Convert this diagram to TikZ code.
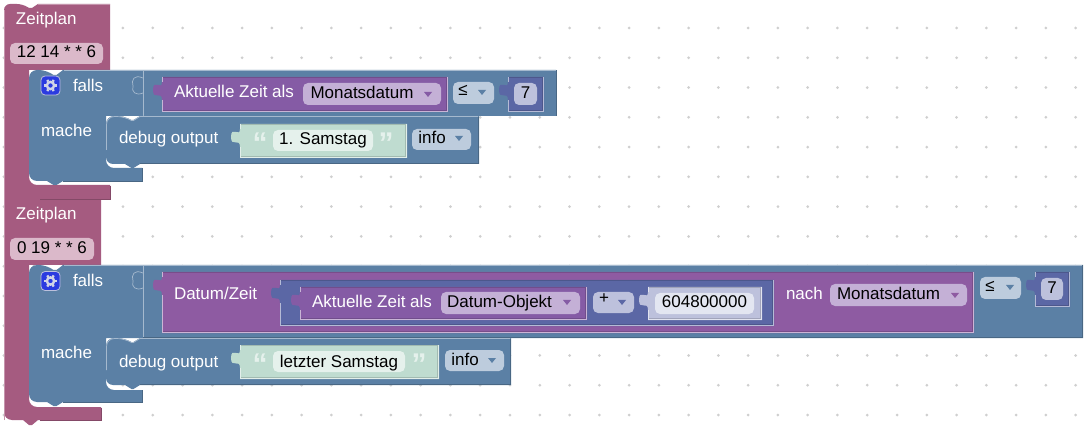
\documentclass[tikz,border=0pt]{standalone}
\usepackage{fontspec}
\setmainfont{Liberation Sans}
\definecolor{cron}{HTML}{A55B80}
\definecolor{ctrl}{HTML}{5B80A5}
\definecolor{cronfield}{HTML}{DBB9CA}
\definecolor{ddblue}{HTML}{BDCCDD}
\definecolor{ddpurple}{HTML}{C4B0D6}
\definecolor{ddindigo}{HTML}{BDC1DC}
\definecolor{purpA}{HTML}{855BA5}
\definecolor{purpB}{HTML}{8E5BA2}
\definecolor{indigo}{HTML}{5B67A5}
\definecolor{strg}{HTML}{BFDCD0}
\definecolor{strfield}{HTML}{E5F1EC}
\definecolor{numfield}{HTML}{E3E6F1}
\definecolor{gridc}{HTML}{CFCFCF}
\definecolor{gearbg}{HTML}{2B3BE0}
\tikzset{
  lab/.style={anchor=base west,inner sep=0pt,outer sep=0pt,text=white,font=\fontsize{17}{20}\selectfont},
  val/.style={anchor=base,inner sep=0pt,outer sep=0pt,text=black,font=\fontsize{17}{20}\selectfont},
  quot/.style={anchor=center,inner sep=0pt,text=strfield,font=\fontsize{30}{30}\selectfont\bfseries},
}
% value block: x1,y1,x2,y2,fill
\newcommand{\valb}[5]{%
  \fill[#5] (#1,#2) -- (#1,#2+5) .. controls (#1,#2+14) and (#1-9,#2+1) .. (#1-9,#2+13)
     .. controls (#1-9,#2+24) and (#1,#2+13) .. (#1,#2+23) -- (#1,#4) -- (#3,#4) -- (#3,#2) -- cycle;
  \draw[#5!85!black,line width=.8pt] (#1+.5,#4-1.5) -- (#3-1.5,#4-1.5) -- (#3-1.5,#2+.5);
  \draw[#5!85!black,line width=.8pt] (#1,#2+.4) -- (#3,#2+.4);
  \draw[#5!45!white,line width=.8pt] (#1,#2+23) -- (#1,#4-.4) -- (#3-.4,#4-.4) -- (#3-.4,#2);
  \draw[#5!45!white,line width=.6pt] (#1,#2) -- (#1,#2+5);
}
% rounded field: x1,y1,x2,y2,fill
\newcommand{\fld}[5]{\fill[#5,rounded corners=5pt] (#1,#2) rectangle (#3,#4);}
% dropdown triangle: x,y,colour
\newcommand{\ddtri}[3]{\fill[#3] (#1,#2) -- (#1+8,#2) -- (#1+4,#2+5) -- cycle;}
% gear at centre x,y
\newcommand{\gearicon}[2]{%
  \fill[gearbg,draw=ddindigo,line width=.8pt,rounded corners=4pt] (#1-9.5,#2-9.5) rectangle (#1+9.5,#2+9.5);
  \draw[ddindigo!70!white,line width=2.4pt] (#1,#2) circle (3.6pt);
  \foreach \a in {0,60,120,180,240,300}{
    \draw[ddindigo!70!white,line width=2.4pt] (#1,#2) ++(\a:4.4pt) -- ++(\a:2pt);}
}
\begin{document}
\begin{tikzpicture}[x=1pt,y=-1pt]
\useasboundingbox (0,0) rectangle (1092,430);
\fill[white] (0,0) rectangle (1092,430);
% grid dots
\foreach \i in {0,...,36}{\foreach \j in {0,...,13}{
  \fill[gridc] (3.9+29.77*\i,28+29.77*\j) circle (1.5pt);}}

%%% second Zeitplan
\fill[cron] (4,199) -- (101,199) -- (101,265) -- (29,265) -- (29,399)
   {[rounded corners=8pt] -- (29,407) -- (60,407)} -- (101,407) -- (101,420) -- (38,420) -- ++(-6,5) -- ++(-3,0) -- ++(-6,-5)
   {[rounded corners=8pt] -- (4,420) -- (4,400)} -- cycle;
\draw[cron!65!white,line width=.7pt] (4,420) -- (4,199);
\draw[cron!80!black,line width=.8pt] (101,408) -- (101,420) -- (40,420);
%%% first Zeitplan
\fill[cron] {[rounded corners=6pt] (4,30) -- (4,4) -- (23,4)} -- ++(6,4) -- ++(3,0) -- ++(6,-4) -- (110,4) -- (110,70) -- (29,70) -- (29,177)
   {[rounded corners=8pt] -- (29,185) -- (60,185)} -- (110,185) -- (110,199) -- (38,199) -- ++(-6,4.5) -- ++(-3,0) -- ++(-6,-4.5) -- (4,199) -- cycle;
\draw[cron!65!white,line width=.7pt] (4,199) -- (4,10);
\draw[cron!65!white,line width=.7pt] (38,4.4) -- (110,4.4);
\draw[cron!80!black,line width=.8pt] (110,186) -- (110,199) -- (40,199);

\node[lab] (z1) at (16,25) {Zeitplan};
\fld{10}{43}{103}{64}{cronfield}
\node[val] (c1) at (56.5,58) {12 14 * * 6};
\node[lab] (z2) at (16,220) {Zeitplan};
\fld{10}{238}{94}{260}{cronfield}
\node[val] (c2) at (52,254) {0 19 * * 6};

%%% falls 1
\fill[ctrl] (29,100) {[rounded corners=8pt] -- (29,70) -- (47,70)} -- ++(6.5,5) -- ++(3,0) -- ++(6.5,-5) -- (556,70) -- (556,116) -- (143,116) -- (106,116) -- (106,160)
   {[rounded corners=8pt] -- (106,168) -- (125,168)} -- (142,168) -- (142,181) -- (63,181) -- ++(-6.5,4) -- ++(-3,0) -- ++(-6.5,-4)
   {[rounded corners=8pt] -- (29,181) -- (29,150)} -- cycle;
\draw[ctrl!55!white,line width=.7pt] (143,71) -- (143,116);
\draw[ctrl!55!white,line width=.7pt] (143,78) .. controls (134,74) and (131,80) .. (133,86) .. controls (131,92) and (136,96) .. (143,93);
\draw[ctrl!55!white,line width=.7pt] (64,70.4) -- (556,70.4);
\draw[ctrl!80!black,line width=.8pt] (556,70.4) -- (556,116);
\draw[ctrl!80!black,line width=.8pt] (142,168) -- (142,181) -- (63,181);
%%% debug 1
\fill[ctrl] (106,124) {[rounded corners=8pt] -- (106,116) -- (125,116)} -- ++(6.5,4) -- ++(2,0) -- ++(6.5,-4) -- (479,116) -- (479,164) -- (140,164) -- ++(-6.5,4) -- ++(-2,0) -- ++(-6.5,-4)
   {[rounded corners=7pt] -- (106,164) -- (106,150)} -- cycle;
\draw[ctrl!55!white,line width=.7pt] (106.5,150) {[rounded corners=8pt] -- (106.5,116.5) -- (125,116.5)} -- ++(6.5,4) -- ++(2,0) -- ++(6.5,-4) -- (478,116.5);
\draw[ctrl!80!black,line width=.8pt] (478.6,117) -- (478.6,163.6) -- (140,163.6);

\gearicon{50.5}{85.5}
\node[lab] (f1) at (73,92) {falls};
\node[lab] (m1) at (41,137) {mache};
\valb{162}{77}{448}{112}{purpA}
\node[lab] (a1) at (174,98) {Aktuelle Zeit als};
\fld{303}{83}{441}{105}{ddpurple}
\node[val] (md1) at (362,99) {Monatsdatum};
\ddtri{424}{92}{purpA}
\fld{453}{82}{494}{104}{ddblue}
\node[val] (le1) at (463,96) {≤};
\ddtri{478}{90}{ctrl}
\valb{508}{77}{544}{112}{indigo}
\fld{514}{83}{537}{105}{ddindigo}
\node[val] (s1) at (525.5,99) {7};

\node[lab] (d1) at (119,144) {debug output};
\valb{240}{124}{407}{158}{strg}
\node[quot] (q1) at (260,143) {“};
\fld{273}{130}{373}{151}{strfield}
\node[val] (t1) at (323,145) {1. Samstag};
\node[quot] (q2) at (386,143) {”};
\fld{412}{129}{471}{150}{ddblue}
\node[val] (i1) at (432,144) {info};
\ddtri{455}{136}{ctrl}

%%% falls 2
\fill[ctrl] (29,300) {[rounded corners=8pt] -- (29,265) -- (47,265)} -- ++(6.5,5) -- ++(3,0) -- ++(6.5,-5) -- (1083,265) -- (1083,338) -- (143,338) -- (106,338) -- (106,382)
   {[rounded corners=8pt] -- (106,390) -- (125,390)} -- (142,390) -- (142,402) -- (63,402) -- ++(-6.5,4) -- ++(-3,0) -- ++(-6.5,-4)
   {[rounded corners=8pt] -- (29,402) -- (29,370)} -- cycle;
\draw[ctrl!55!white,line width=.7pt] (143,266) -- (143,338);
\draw[ctrl!55!white,line width=.7pt] (143,273) .. controls (134,269) and (131,275) .. (133,281) .. controls (131,287) and (136,291) .. (143,288);
\draw[ctrl!55!white,line width=.7pt] (64,265.4) -- (1083,265.4);
\draw[ctrl!80!black,line width=.8pt] (1082.6,265.4) -- (1082.6,337.6) -- (143,337.6);
\draw[ctrl!80!black,line width=.8pt] (142,390) -- (142,402) -- (63,402);
%%% debug 2
\fill[ctrl] (106,346) {[rounded corners=8pt] -- (106,338) -- (125,338)} -- ++(6.5,4) -- ++(2,0) -- ++(6.5,-4) -- (511,338) -- (511,385) -- (140,385) -- ++(-6.5,4) -- ++(-2,0) -- ++(-6.5,-4)
   {[rounded corners=7pt] -- (106,385) -- (106,370)} -- cycle;
\draw[ctrl!55!white,line width=.7pt] (106.5,370) {[rounded corners=8pt] -- (106.5,338.5) -- (125,338.5)} -- ++(6.5,4) -- ++(2,0) -- ++(6.5,-4) -- (510,338.5);
\draw[ctrl!80!black,line width=.8pt] (510.6,339) -- (510.6,384.6) -- (140,384.6);

\gearicon{50.5}{281}
\node[lab] (f2) at (73,287) {falls};
\node[lab] (m2) at (41,358) {mache};

\valb{162}{272}{974}{333}{purpB}
\node[lab] (dz) at (174,300) {Datum/Zeit};
\valb{280}{280}{774}{326}{indigo}
\valb{300}{287}{587}{320}{purpA}
\node[lab] (a2) at (312,307) {Aktuelle Zeit als};
\fld{441}{292}{580}{314}{ddpurple}
\node[val] (dobj) at (499.5,307) {Datum-Objekt};
\ddtri{563}{300}{purpA}
\fld{593}{292}{634}{313}{ddindigo}
\node[val] (plus) at (604,303) {+};
\ddtri{618}{300}{indigo}
\valb{648}{287}{762}{320}{ddindigo}
\fld{655}{293}{754}{314}{numfield}
\node[val] (num) at (704.5,308) {604800000};
\node[lab] (na) at (786,300) {nach};
\fld{830}{284}{967}{306}{ddpurple}
\node[val] (md2) at (888.5,300) {Monatsdatum};
\ddtri{951}{293}{purpB}
\fld{980}{277}{1021}{299}{ddblue}
\node[val] (le2) at (990,291) {≤};
\ddtri{1006}{285}{ctrl}
\valb{1035}{272}{1070}{307}{indigo}
\fld{1041}{278}{1063}{300}{ddindigo}
\node[val] (s2) at (1052,294) {7};

\node[lab] (d2) at (119,367) {debug output};
\valb{240}{345}{439}{379}{strg}
\node[quot] (q3) at (260,364) {“};
\fld{273}{351}{405}{372}{strfield}
\node[val] (t2) at (339,367) {letzter Samstag};
\node[quot] (q4) at (419,364) {”};
\fld{445}{350}{504}{371}{ddblue}
\node[val] (i2) at (465,365) {info};
\ddtri{488}{358}{ctrl}
\end{tikzpicture}
\end{document}
